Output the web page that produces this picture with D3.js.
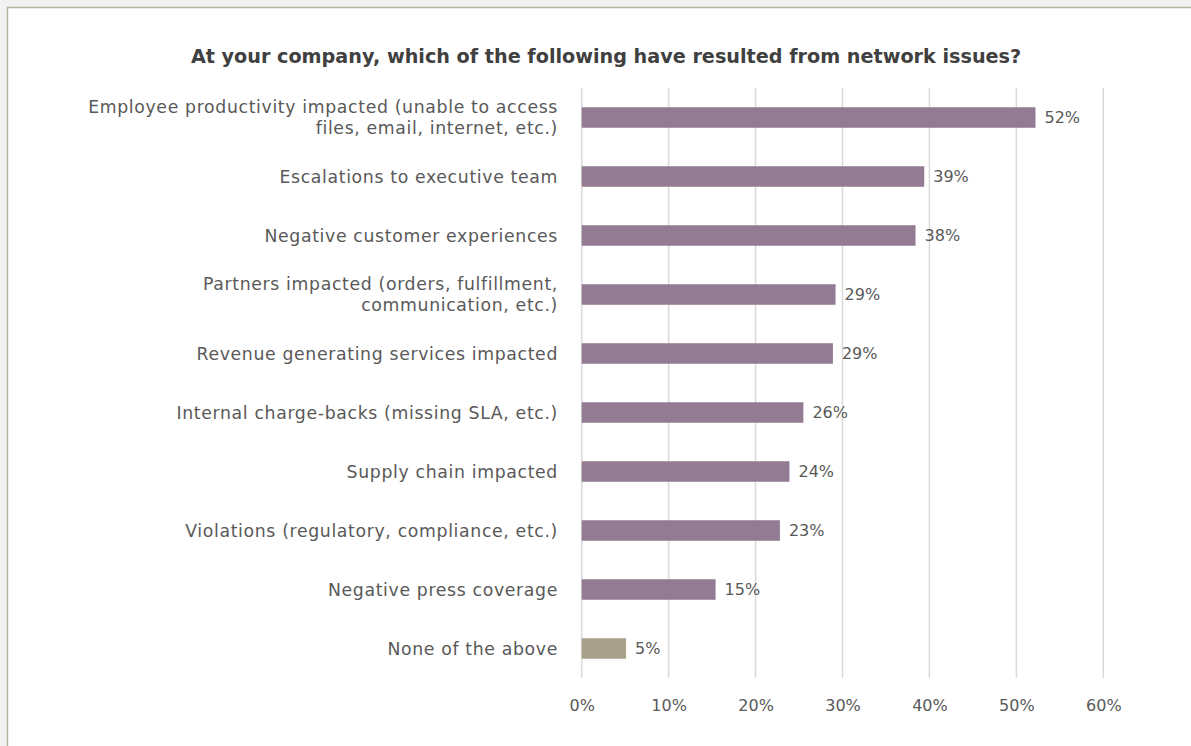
<!DOCTYPE html>
<html><head><meta charset="utf-8">
<script src="https://cdn.jsdelivr.net/npm/d3@7"></script>
<style>
html,body{margin:0;padding:0;background:#f2f2f2;}
svg{display:block;}
</style></head>
<body>
<svg id="c" width="1191" height="746"></svg>
<script>
const categories = [
  ["Employee productivity impacted (unable to access", "files, email, internet, etc.)"],
  ["Escalations to executive team"],
  ["Negative customer experiences"],
  ["Partners impacted (orders, fulfillment,", "communication, etc.)"],
  ["Revenue generating services impacted"],
  ["Internal charge-backs (missing SLA, etc.)"],
  ["Supply chain impacted"],
  ["Violations (regulatory, compliance, etc.)"],
  ["Negative press coverage"],
  ["None of the above"]
];
const values = [52.2, 39.4, 38.4, 29.2, 28.9, 25.5, 23.9, 22.8, 15.4, 5.1];
const ticks = [0, 10, 20, 30, 40, 50, 60];
const title = "At your company, which of the following have resulted from network issues?";

const font = "'Century Gothic','URW Gothic','DejaVu Sans',sans-serif";
const svg = d3.select("#c");
svg.append("rect").attr("x",7.5).attr("y",7.5).attr("width",1200).attr("height",760)
  .attr("fill","#fff").attr("stroke","#b8b2a4").attr("stroke-width",1.5);

const x = d3.scaleLinear().domain([0,60]).range([581.7,1103.3]);
const y = d3.scaleBand().domain(d3.range(categories.length)).range([88,678]).paddingInner(0.652).paddingOuter(0.326);

const g = svg.append("g");
g.selectAll("line.grid").data(ticks).join("line").attr("class","grid")
  .attr("x1",d=>x(d)).attr("x2",d=>x(d)).attr("y1",88).attr("y2",678)
  .attr("stroke","#d9d9d9").attr("stroke-width",1.5);

g.selectAll("rect.bar").data(values).join("rect").attr("class","bar")
  .attr("x",x(0)).attr("y",(d,i)=>y(i)).attr("width",d=>x(d)-x(0)).attr("height",y.bandwidth())
  .attr("fill",(d,i)=>i===values.length-1?"#a9a08c":"#937c93");

g.selectAll("text.val").data(values).join("text").attr("class","val")
  .attr("x",d=>x(d)+9).attr("y",(d,i)=>y(i)+y.bandwidth()/2).attr("dy","0.36em")
  .attr("font-family",font).attr("font-size",16).attr("fill","#595959")
  .text(d=>Math.round(d)+"%");

const xa = d3.axisBottom(x).tickValues(ticks).tickFormat(d=>d+"%").tickSize(0).tickPadding(0);
const ax = svg.append("g").attr("transform","translate(0,705)").call(xa);
ax.select(".domain").remove();
ax.selectAll("text").attr("font-family",font).attr("font-size",16).attr("fill","#595959").attr("dy","0.36em");

const cl = svg.append("g");
categories.forEach((lines,i)=>{
  const cy = y(i)+y.bandwidth()/2;
  const t = cl.append("text").attr("x",558).attr("text-anchor","end")
    .attr("font-family",font).attr("font-size",17.3).attr("letter-spacing",0.65).attr("fill","#595959");
  lines.forEach((s,j)=>{
    t.append("tspan").attr("x",558).attr("y",cy + (j-(lines.length-1)/2)*21).attr("dy","0.36em").text(s);
  });
});

svg.append("text").attr("x",606).attr("y",56).attr("dy","0.36em").attr("text-anchor","middle")
  .attr("font-family",font).attr("font-weight","bold").attr("font-size",19.2).attr("fill","#404040")
  .text(title);
</script>
</body></html>
